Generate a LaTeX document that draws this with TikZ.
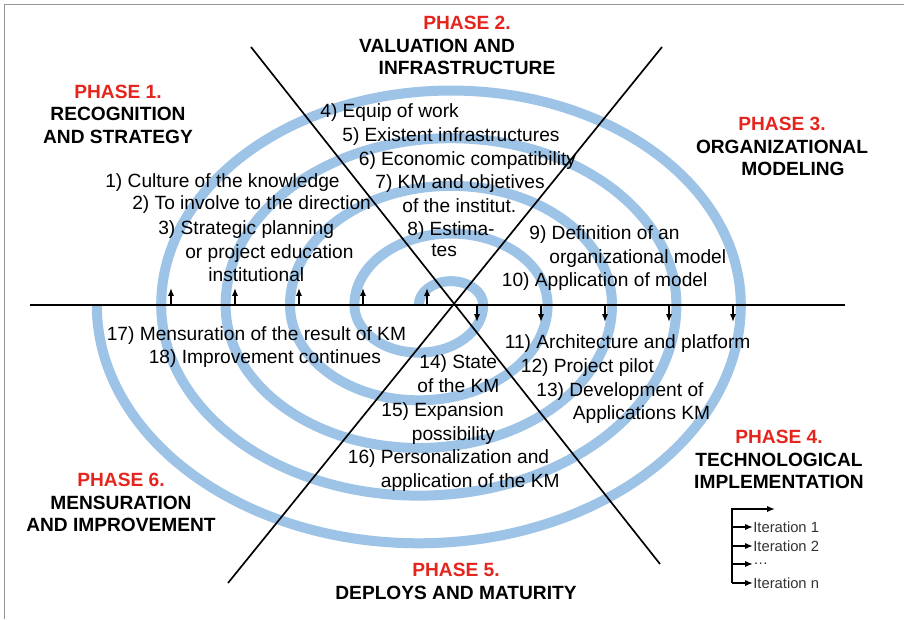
\documentclass[tikz,border=0pt]{standalone}
\usepackage{fontspec}
\setmainfont{Liberation Sans}
\usetikzlibrary{arrows.meta}

\definecolor{spiralblue}{RGB}{157,195,230}
\definecolor{phasered}{RGB}{228,37,30}
\definecolor{framegray}{RGB}{150,150,150}

\tikzset{
  spiral/.style={line width=0.2cm, spiralblue},
  axis/.style={line width=0.95pt},
  tick/.style={-{Latex[length=4.5pt,width=3.5pt]}, line width=0.8pt},
  item/.style={anchor=base west, inner sep=0pt, font=\fontsize{10.9}{13}\selectfont},
  phase/.style={align=center, inner sep=0pt, font=\fontsize{10.9}{12.8}\selectfont\bfseries},
  iter/.style={anchor=west, inner sep=0pt, font=\fontsize{8.4}{10}\selectfont, text=black!80},
}

\begin{document}
\begin{tikzpicture}
  \useasboundingbox (-9.08,-6.28) rectangle (9.0,6.1);
  \draw[framegray, line width=0.5pt] (-9.0,-6.28) -- (-9.0,6.02) -- (9.0,6.02);

  % spiral: upper half-ellipses round (-0.06,0), lower ones round (-0.704,0)
  \draw[spiral] (-0.704,0) \foreach \k in {1,...,5}{
    arc[start angle=180, end angle=0, x radius={(2*\k-1)*0.644}, y radius={0.74*(2*\k-1)*0.644}]
    arc[start angle=0, end angle=-180, x radius={2*\k*0.644}, y radius={0.74*2*\k*0.644}]
  };

  % the three axes
  \draw[axis] (-8.48,0) -- (7.82,0);
  \draw[axis] (-4.06,5.16) -- (4.12,-5.18);
  \draw[axis] (4.16,5.16) -- (-4.52,-5.56);

  % iteration marks on the horizontal axis
  \foreach \i in {0,...,4}{
    \draw[tick] ({-0.54-1.28*\i},0) -- ++(0,0.34);
    \draw[tick] ({0.46+1.28*\i},0) -- ++(0,-0.34);
  }

  % phases
  \node[phase] (ph1) at (-6.72,3.82) {\textcolor{phasered}{PHASE 1.}\\RECOGNITION\\AND STRATEGY};
  \node[phase] (ph2) at (0.26,5.19) {\textcolor{phasered}{PHASE 2.}\\VALUATION AND\hspace*{1.2cm}\mbox{}\\INFRASTRUCTURE};
  \node[phase] (ph3) at (6.56,3.17) {\textcolor{phasered}{PHASE 3.}\\ORGANIZATIONAL\\\hspace*{0.44cm}MODELING};
  \node[phase] (ph4) at (6.5,-3.09) {\textcolor{phasered}{PHASE 4.}\\TECHNOLOGICAL\\IMPLEMENTATION};
  \node[phase] (ph5) at (0.04,-5.53) {\textcolor{phasered}{PHASE 5.}\\DEPLOYS AND MATURITY};
  \node[phase] (ph6) at (-6.66,-3.95) {\textcolor{phasered}{PHASE 6.}\\MENSURATION\\AND IMPROVEMENT};

  % activities of phase 1
  \node[item] (a1)  at (-6.98,2.35) {1) Culture of the knowledge};
  \node[item] (a2)  at (-6.44,1.91) {2) To involve to the direction};
  \node[item] (a3)  at (-5.92,1.41) {3) Strategic planning};
  \node[item] (a3b) at (-5.38,0.93) {or project education};
  \node[item] (a3c) at (-4.92,0.47) {institutional};
  % phase 2
  \node[item] (a4)  at (-2.68,3.75) {4) Equip of work};
  \node[item] (a5)  at (-2.24,3.27) {5) Existent infrastructures};
  \node[item] (a6)  at (-1.91,2.79) {6) Economic compatibility};
  \node[item] (a7)  at (-1.58,2.33) {7) KM and objetives};
  \node[item] (a7b) at (-1.04,1.85) {of the institut.};
  \node[item] (a8)  at (-0.94,1.39) {8) Estima-};
  \node[item] (a8b) at (-0.46,0.98) {tes};
  % phase 3
  \node[item] (a9)   at (1.50,1.31) {9) Definition of an};
  \node[item] (a9b)  at (1.90,0.83) {organizational model};
  \node[item] (a10)  at (0.95,0.37) {10) Application of model};
  % phase 4
  \node[item] (a11)  at (1.01,-0.87) {11) Architecture and platform};
  \node[item] (a12)  at (1.33,-1.35) {12) Project pilot};
  \node[item] (a13)  at (1.64,-1.83) {13) Development of};
  \node[item] (a13b) at (2.37,-2.29) {Applications KM};
  % phase 5
  \node[item] (a14)  at (-0.70,-1.27) {14) State};
  \node[item] (a14b) at (-0.74,-1.75) {of the KM};
  \node[item] (a15)  at (-1.46,-2.23) {15) Expansion};
  \node[item] (a15b) at (-0.85,-2.70) {possibility};
  \node[item] (a16)  at (-2.13,-3.17) {16) Personalization and};
  \node[item] (a16b) at (-1.47,-3.65) {application of the KM};
  % phase 6
  \node[item] (a17)  at (-6.95,-0.70) {17) Mensuration of the result of KM};
  \node[item] (a18)  at (-6.11,-1.17) {18) Improvement continues};

  % legend
  \coordinate (lg) at (5.56,-5.56);
  \draw[tick] (lg) |- (6.42,-4.08);
  \node[iter] (it1) at (5.98,-4.44) {Iteration 1};
  \node[iter] (it2) at (5.98,-4.82) {Iteration 2};
  \node[iter] (itd) at (5.98,-5.18) {\dots};
  \node[iter] (itn) at (5.98,-5.56) {Iteration n};
  \foreach \n in {it1,it2,itd,itn}
    \draw[tick] (lg |- \n.west) -- (\n.west);
\end{tikzpicture}
\end{document}
